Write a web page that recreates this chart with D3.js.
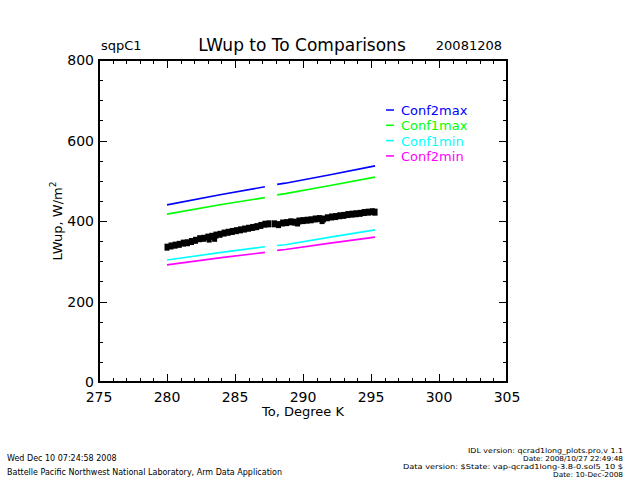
<!DOCTYPE html>
<html>
<head>
<meta charset="utf-8">
<script src="https://cdn.jsdelivr.net/npm/d3@7"></script>
<style>
  body { margin: 0; background: #fff; }
  text { font-family: "DejaVu Sans", sans-serif; fill: #000; }
</style>
</head>
<body>
<div id="chart"></div>
<script>
/* DATA */
const xTicks = [275, 280, 285, 290, 295, 300, 305];
const yTicks = [0, 200, 400, 600, 800];

// measured To (K) and LWup (W/m2)
const toK = [280.0, 280.3, 280.6, 280.9, 281.2, 281.5, 281.8, 282.1, 282.4, 282.7,
             283.0, 283.3, 283.6, 283.9, 284.2, 284.5, 284.8, 285.1, 285.4, 285.7,
             286.0, 286.3, 286.6, 286.9, 287.2, 287.5, 287.9, 288.2, 288.5, 288.8,
             289.1, 289.4, 289.7, 290.0, 290.3, 290.6, 290.9, 291.2, 291.5, 291.8,
             292.1, 292.4, 292.7, 293.0, 293.3, 293.6, 293.9, 294.2, 294.5, 294.8,
             295.1, 295.3, 283.1, 283.5, 289.6, 291.4];
const lwup = [335, 338, 340, 342, 345, 346, 349, 352, 356, 357,
              360, 362, 365, 367, 370, 372, 374, 376, 378, 380,
              382, 384, 386, 389, 392, 393, 393, 391, 395, 396,
              398, 397, 400, 401, 402, 403, 405, 406, 405, 408,
              410, 411, 413, 414, 416, 417, 418, 419, 421, 422,
              423, 422, 355, 357, 395, 401];

// confidence limits (segments broken where there is no data)
const confTo = [280.0, 284.0, 287.2, null, 288.1, 288.7, 292.0, 295.3];
const conf2max = [440, 466, 485, null, 491, 494, 515, 537];
const conf1max = [417, 441, 458, null, 465, 468, 488, 509];
const conf1min = [303, 322, 336, null, 339, 341, 360, 378];
const conf2min = [291, 309, 322, null, 327, 329, 345, 360];

const seriesNames = ["Conf2max", "Conf1max", "Conf1min", "Conf2min"];
const seriesVals = [conf2max, conf1max, conf1min, conf2min];
const seriesColors = ["#0000ff", "#00ff00", "#00ffff", "#ff00ff"];

/* LAYOUT */
const W = 640, H = 480;
const plot = {left: 99, right: 507, top: 60, bottom: 382};

const svg = d3.select("#chart").append("svg")
  .attr("width", W).attr("height", H);

const x = d3.scaleLinear().domain([275, 305]).range([plot.left, plot.right]);
const y = d3.scaleLinear().domain([0, 800]).range([plot.bottom, plot.top]);

// axes: IDL style box with ticks inward on all four sides
const minorX = d3.range(275, 306, 1);
const minorY = d3.range(0, 801, 50);

svg.append("g").attr("transform", `translate(0,${plot.bottom})`)
  .call(d3.axisTop(x).tickValues(minorX).tickSize(4).tickFormat(""))
  .call(g => g.select(".domain").remove());
svg.append("g").attr("transform", `translate(0,${plot.bottom})`)
  .call(d3.axisTop(x).tickValues(xTicks).tickSize(8).tickFormat(""))
  .call(g => g.select(".domain").remove());
svg.append("g").attr("transform", `translate(0,${plot.top})`)
  .call(d3.axisBottom(x).tickValues(minorX).tickSize(4).tickFormat(""))
  .call(g => g.select(".domain").remove());
svg.append("g").attr("transform", `translate(0,${plot.top})`)
  .call(d3.axisBottom(x).tickValues(xTicks).tickSize(8).tickFormat(""))
  .call(g => g.select(".domain").remove());

svg.append("g").attr("transform", `translate(${plot.left},0)`)
  .call(d3.axisRight(y).tickValues(minorY).tickSize(4).tickFormat(""))
  .call(g => g.select(".domain").remove());
svg.append("g").attr("transform", `translate(${plot.left},0)`)
  .call(d3.axisRight(y).tickValues(yTicks).tickSize(8).tickFormat(""))
  .call(g => g.select(".domain").remove());
svg.append("g").attr("transform", `translate(${plot.right},0)`)
  .call(d3.axisLeft(y).tickValues(minorY).tickSize(4).tickFormat(""))
  .call(g => g.select(".domain").remove());
svg.append("g").attr("transform", `translate(${plot.right},0)`)
  .call(d3.axisLeft(y).tickValues(yTicks).tickSize(8).tickFormat(""))
  .call(g => g.select(".domain").remove());

svg.selectAll(".tick line").attr("stroke", "#000").attr("stroke-width", 1)
  .attr("shape-rendering", "crispEdges");

svg.append("rect")
  .attr("x", plot.left).attr("y", plot.top)
  .attr("width", plot.right - plot.left).attr("height", plot.bottom - plot.top)
  .attr("fill", "none").attr("stroke", "#000").attr("stroke-width", 1.2)
  .attr("shape-rendering", "crispEdges");

// tick labels
svg.selectAll(".xlab").data(xTicks).enter().append("text")
  .attr("x", d => x(d)).attr("y", plot.bottom + 20)
  .attr("text-anchor", "middle").attr("font-size", 14)
  .text(d => d);
svg.selectAll(".ylab").data(yTicks).enter().append("text")
  .attr("x", plot.left - 5).attr("y", d => y(d) + 5)
  .attr("text-anchor", "end").attr("font-size", 14)
  .text(d => d);

// axis titles
svg.append("text").attr("x", 303).attr("y", 416)
  .attr("text-anchor", "middle").attr("font-size", 13)
  .text("To, Degree K");
const yt = svg.append("text")
  .attr("transform", "translate(62,221) rotate(-90)")
  .attr("text-anchor", "middle").attr("font-size", 13);
yt.append("tspan").text("LWup, W/m");
yt.append("tspan").attr("font-size", 9).attr("dy", -6).text("2");

// titles
svg.append("text").attr("x", 302).attr("y", 51)
  .attr("text-anchor", "middle").attr("font-size", 17)
  .text("LWup to To Comparisons");
svg.append("text").attr("x", 101).attr("y", 50)
  .attr("font-size", 13).text("sqpC1");
svg.append("text").attr("x", 502).attr("y", 50)
  .attr("text-anchor", "end").attr("font-size", 13).text("20081208");

// confidence lines
const line = d3.line()
  .defined((d, i) => d !== null && confTo[i] !== null)
  .x((d, i) => x(confTo[i]))
  .y(d => y(d));

seriesVals.forEach((vals, k) => {
  svg.append("path")
    .attr("d", line(vals))
    .attr("fill", "none")
    .attr("stroke", seriesColors[k])
    .attr("stroke-width", 1.6);
});

// measured points
svg.selectAll(".pt").data(toK).enter().append("rect")
  .attr("x", d => x(d) - 2.5)
  .attr("y", (d, i) => y(lwup[i]) - 3.5)
  .attr("width", 5).attr("height", 7)
  .attr("fill", "#000");

// legend
const legend = svg.append("g");
seriesNames.forEach((name, k) => {
  const ly = 110 + k * 15.3;
  legend.append("line")
    .attr("x1", 386).attr("x2", 394).attr("y1", ly).attr("y2", ly)
    .attr("stroke", seriesColors[k]).attr("stroke-width", 1.5);
  legend.append("text")
    .attr("x", 401).attr("y", ly + 5)
    .attr("font-size", 13).style("fill", seriesColors[k])
    .text(name);
});

// footer
svg.append("text").attr("x", 7).attr("y", 461).attr("font-size", 8)
  .text("Wed Dec 10 07:24:58 2008");
svg.append("text").attr("x", 7).attr("y", 475).attr("font-size", 8)
  .attr("textLength", 275).attr("lengthAdjust", "spacingAndGlyphs")
  .text("Battelle Pacific Northwest National Laboratory, Arm Data Application");

const footRight = [
  {t: "IDL version: qcrad1long_plots.pro,v 1.1", len: 155},
  {t: "Date: 2008/10/27 22:49:48", len: 100},
  {t: "Data version: $State: vap-qcrad1long-3.8-0.sol5_10 $", len: 220},
  {t: "Date: 10-Dec-2008", len: 70}
];
footRight.forEach((d, i) => {
  svg.append("text").attr("x", 623 - d.len).attr("y", 453 + i * 8)
    .attr("font-size", 6.8)
    .attr("textLength", d.len).attr("lengthAdjust", "spacingAndGlyphs")
    .text(d.t);
});
</script>
</body>
</html>
